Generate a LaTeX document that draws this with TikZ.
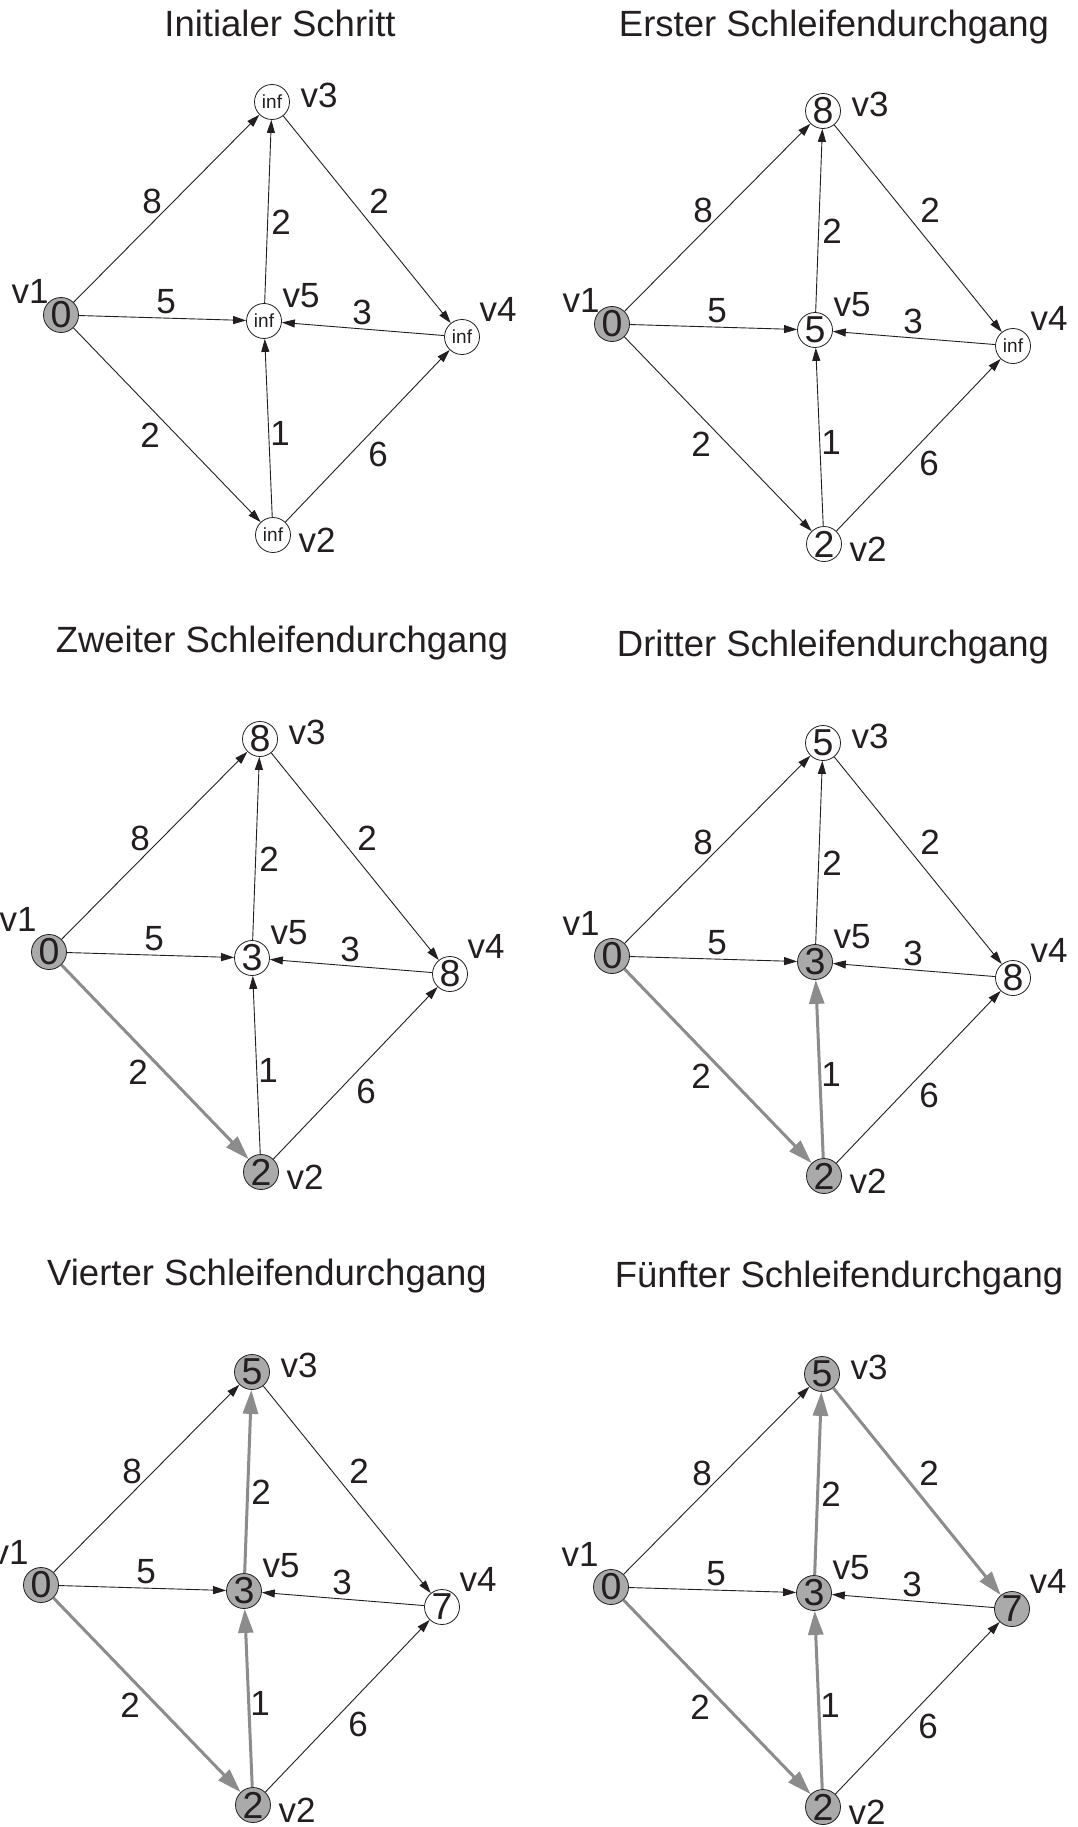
\documentclass[tikz,border=0pt]{standalone}
\usepackage{fontspec}
\setmainfont{Liberation Sans}
\usetikzlibrary{arrows.meta}
\definecolor{ink}{HTML}{231F20}
\definecolor{visitfill}{HTML}{AAAAAA}
\definecolor{pathgray}{HTML}{8C8C8C}

\tikzset{
  vnode/.style={circle, draw=ink, line width=0.8pt, fill=white, minimum size=35pt,
    inner sep=0pt, text=ink, font=\fontsize{37.5}{37.5}\selectfont},
  visited/.style={fill=visitfill},
  vname/.style={text=ink, inner sep=0pt, font=\fontsize{35}{35}\selectfont},
  wlab/.style={text=ink, inner sep=0pt, font=\fontsize{35}{35}\selectfont},
  ttl/.style={text=ink, inner sep=0pt, font=\fontsize{36.5}{36.5}\selectfont},
  link/.style={draw=ink, line width=0.9pt, -{Triangle[length=13pt,width=8pt]}},
  pathedge/.style={draw=pathgray, line width=3pt, -{Triangle[length=24pt,width=15pt]}},
  s1/.style={}, s2/.style={}, s3/.style={}, s4/.style={}, s5/.style={},
  e13/.style={}, e15/.style={}, e12/.style={}, e53/.style={},
  e34/.style={}, e45/.style={}, e25/.style={}, e24/.style={}
}

\newcommand\infv{{\fontsize{19}{19}\selectfont inf}}
\def\vonedy{-29}

% one graph state; origin at v1
\newcommand\dgraph[6]{%
  \node[vnode,s1] (#1v1) at (0,0) {#2};
  \node[vnode,s2] (#1v2) at (212,220) {#3};
  \node[vnode,s3] (#1v3) at (211,-213) {#4};
  \node[vnode,s4] (#1v4) at (401,22) {#5};
  \node[vnode,s5] (#1v5) at (203,6) {#6};
  \node[vname] (#1n1) at (-31,\vonedy) {v1};
  \node[vname] (#1n2) at (256,225) {v2};
  \node[vname] (#1n3) at (258,-220) {v3};
  \node[vname] (#1n4) at (437,-6) {v4};
  \node[vname] (#1n5) at (240,-19) {v5};
  \draw[link,e13] (#1v1) -- (#1v3);
  \draw[link,e15] (#1v1) -- (#1v5);
  \draw[link,e12] (#1v1) -- (#1v2);
  \draw[link,e53] (#1v5) -- (#1v3);
  \draw[link,e34] (#1v3) -- (#1v4);
  \draw[link,e45] (#1v4) -- (#1v5);
  \draw[link,e25] (#1v2) -- (#1v5);
  \draw[link,e24] (#1v2) -- (#1v4);
  \node[wlab] (#1w13) at (91,-114) {8};
  \node[wlab] (#1w53) at (220,-93) {2};
  \node[wlab] (#1w34) at (318,-114) {2};
  \node[wlab] (#1w15) at (105,-13) {5};
  \node[wlab] (#1w45) at (301,-3) {3};
  \node[wlab] (#1w12) at (89,120) {2};
  \node[wlab] (#1w25) at (219,118) {1};
  \node[wlab] (#1w24) at (317,139) {6};
}

\begin{document}
\begin{tikzpicture}[x=1pt,y=-1pt]
\useasboundingbox[fill=white] (0,0) rectangle (1078,1827);

\node[ttl] (t1) at (280,23) {Initialer Schritt};
\node[ttl] (t2) at (834,27) {Erster Schleifendurchgang};
\node[ttl] (t3) at (282,643) {Zweiter Schleifendurchgang};
\node[ttl] (t4) at (833,647) {Dritter Schleifendurchgang};
\node[ttl] (t5) at (267,1276) {Vierter Schleifendurchgang};
\node[ttl] (t6) at (839,1278) {Fünfter Schleifendurchgang};

\begin{scope}[shift={(61,315)}, s1/.style=visited]
  \def\vonedy{-24}
  \dgraph{a}{0}{\infv}{\infv}{\infv}{\infv}
\end{scope}

\begin{scope}[shift={(612,324)}, s1/.style=visited]
  \def\vonedy{-24}
  \dgraph{b}{0}{2}{8}{\infv}{5}
\end{scope}

\begin{scope}[shift={(49,952)}, s1/.style=visited, s2/.style=visited,
    e12/.style=pathedge]
  \def\vonedy{-33}
  \dgraph{c}{0}{2}{8}{8}{3}
\end{scope}

\begin{scope}[shift={(612,956)}, s1/.style=visited, s2/.style=visited,
    s5/.style=visited, e12/.style=pathedge, e25/.style=pathedge]
  \def\vonedy{-33}
  \dgraph{d}{0}{2}{5}{8}{3}
\end{scope}

\begin{scope}[shift={(41,1585)}, s1/.style=visited, s2/.style=visited,
    s3/.style=visited, s5/.style=visited,
    e12/.style=pathedge, e25/.style=pathedge, e53/.style=pathedge]
  \def\vonedy{-33}
  \dgraph{e}{0}{2}{5}{7}{3}
\end{scope}

\begin{scope}[shift={(611,1587)}, s1/.style=visited, s2/.style=visited,
    s3/.style=visited, s4/.style=visited, s5/.style=visited,
    e12/.style=pathedge, e25/.style=pathedge, e53/.style=pathedge,
    e34/.style=pathedge]
  \def\vonedy{-33}
  \dgraph{f}{0}{2}{5}{7}{3}
\end{scope}
\end{tikzpicture}
\end{document}
